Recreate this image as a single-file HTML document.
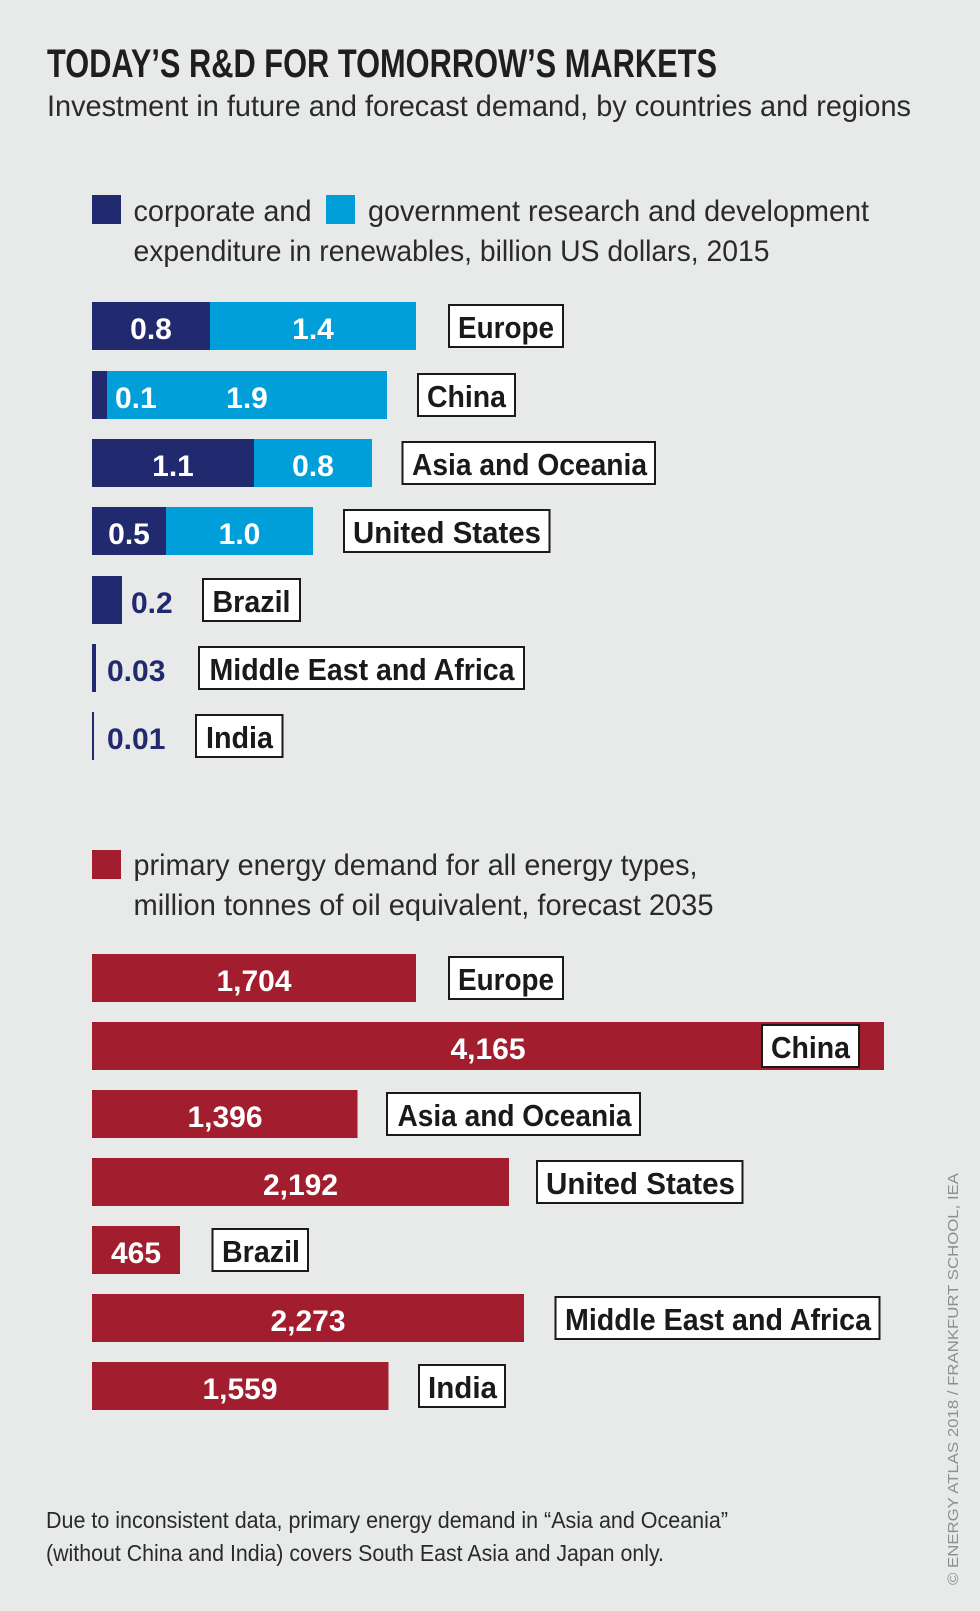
<!DOCTYPE html>
<html>
<head>
<meta charset="utf-8">
<style>
  html,body{margin:0;padding:0;background:#e8eaea;}
  svg{display:block;}
</style>
</head>
<body>
<svg width="980" height="1611" viewBox="0 0 980 1611" xmlns="http://www.w3.org/2000/svg">
  <rect x="0" y="0" width="980" height="1611" fill="#e8eaea"/>

  <!-- Title -->
  <text x="47" y="77" font-family="Liberation Sans, sans-serif" font-weight="bold" font-size="39.5" fill="#1e1e1e" textLength="670" lengthAdjust="spacingAndGlyphs">TODAY’S R&amp;D FOR TOMORROW’S MARKETS</text>
  <text x="47" y="116" font-family="Liberation Sans, sans-serif" font-size="29.5" fill="#2a2a2a" textLength="864" lengthAdjust="spacingAndGlyphs">Investment in future and forecast demand, by countries and regions</text>

  <!-- Legend 1 -->
  <rect x="92" y="195" width="29" height="29" fill="#222a6f"/>
  <text x="133.5" y="221" font-family="Liberation Sans, sans-serif" font-size="30" fill="#2a2a2a" textLength="178" lengthAdjust="spacingAndGlyphs">corporate and</text>
  <rect x="326" y="195" width="29" height="29" fill="#009fda"/>
  <text x="368" y="221" font-family="Liberation Sans, sans-serif" font-size="30" fill="#2a2a2a" textLength="501" lengthAdjust="spacingAndGlyphs">government research and development</text>
  <text x="133.5" y="261" font-family="Liberation Sans, sans-serif" font-size="30" fill="#2a2a2a" textLength="636" lengthAdjust="spacingAndGlyphs">expenditure in renewables, billion US dollars, 2015</text>

  <!-- Blue bars -->
  <g font-family="Liberation Sans, sans-serif" font-weight="bold" font-size="30">
    <!-- Europe -->
    <rect x="92" y="302" width="118" height="48" fill="#222a6f"/>
    <rect x="210" y="302" width="206" height="48" fill="#009fda"/>
    <text x="151" y="339" fill="#fff" text-anchor="middle">0.8</text>
    <text x="313" y="339" fill="#fff" text-anchor="middle">1.4</text>
    <!-- China -->
    <rect x="92" y="371" width="15" height="48" fill="#222a6f"/>
    <rect x="107" y="371" width="280" height="48" fill="#009fda"/>
    <text x="115" y="408" fill="#fff">0.1</text>
    <text x="247" y="408" fill="#fff" text-anchor="middle">1.9</text>
    <!-- Asia -->
    <rect x="92" y="439" width="162" height="48" fill="#222a6f"/>
    <rect x="254" y="439" width="118" height="48" fill="#009fda"/>
    <text x="173" y="476" fill="#fff" text-anchor="middle">1.1</text>
    <text x="313" y="476" fill="#fff" text-anchor="middle">0.8</text>
    <!-- US -->
    <rect x="92" y="507" width="74" height="48" fill="#222a6f"/>
    <rect x="166" y="507" width="147" height="48" fill="#009fda"/>
    <text x="129" y="544" fill="#fff" text-anchor="middle">0.5</text>
    <text x="239.5" y="544" fill="#fff" text-anchor="middle">1.0</text>
    <!-- Brazil -->
    <rect x="92" y="576" width="30" height="48" fill="#222a6f"/>
    <text x="131" y="613" fill="#222a6f">0.2</text>
    <!-- MEA -->
    <rect x="92" y="644" width="4" height="48" fill="#222a6f"/>
    <text x="107" y="681" fill="#222a6f">0.03</text>
    <!-- India -->
    <rect x="92" y="712" width="2" height="48" fill="#222a6f"/>
    <text x="107" y="749" fill="#222a6f">0.01</text>
  </g>

  <!-- Blue labels -->
  <g font-family="Liberation Sans, sans-serif" font-weight="bold" font-size="31" fill="#1a1a1a">
    <rect x="449" y="305" width="114" height="42" fill="#fff" stroke="#1a1a1a" stroke-width="2"/>
    <text x="458" y="338" textLength="96" lengthAdjust="spacingAndGlyphs">Europe</text>
    <rect x="418" y="374" width="97" height="42" fill="#fff" stroke="#1a1a1a" stroke-width="2"/>
    <text x="427" y="407" textLength="79" lengthAdjust="spacingAndGlyphs">China</text>
    <rect x="402.5" y="442" width="252.5" height="42" fill="#fff" stroke="#1a1a1a" stroke-width="2"/>
    <text x="412" y="475" textLength="235" lengthAdjust="spacingAndGlyphs">Asia and Oceania</text>
    <rect x="344" y="510" width="205.5" height="42" fill="#fff" stroke="#1a1a1a" stroke-width="2"/>
    <text x="353" y="543" textLength="188" lengthAdjust="spacingAndGlyphs">United States</text>
    <rect x="203" y="579" width="97" height="42" fill="#fff" stroke="#1a1a1a" stroke-width="2"/>
    <text x="212.5" y="612" textLength="78" lengthAdjust="spacingAndGlyphs">Brazil</text>
    <rect x="199" y="647" width="325" height="42" fill="#fff" stroke="#1a1a1a" stroke-width="2"/>
    <text x="209.5" y="680" textLength="305" lengthAdjust="spacingAndGlyphs">Middle East and Africa</text>
    <rect x="196" y="715" width="86.5" height="42" fill="#fff" stroke="#1a1a1a" stroke-width="2"/>
    <text x="206" y="748" textLength="67" lengthAdjust="spacingAndGlyphs">India</text>
  </g>

  <!-- Legend 2 -->
  <rect x="92" y="850" width="29" height="29" fill="#a21e2e"/>
  <text x="133.5" y="875" font-family="Liberation Sans, sans-serif" font-size="30" fill="#2a2a2a" textLength="564" lengthAdjust="spacingAndGlyphs">primary energy demand for all energy types,</text>
  <text x="133.5" y="915" font-family="Liberation Sans, sans-serif" font-size="30" fill="#2a2a2a" textLength="580" lengthAdjust="spacingAndGlyphs">million tonnes of oil equivalent, forecast 2035</text>

  <!-- Red bars -->
  <g font-family="Liberation Sans, sans-serif" font-weight="bold" font-size="30" fill="#fff" text-anchor="middle">
    <rect x="92" y="954" width="324" height="48" fill="#a21e2e"/>
    <text x="254" y="991">1,704</text>
    <rect x="92" y="1022" width="792" height="48" fill="#a21e2e"/>
    <text x="488" y="1059">4,165</text>
    <rect x="92" y="1090" width="265.5" height="48" fill="#a21e2e"/>
    <text x="225" y="1127">1,396</text>
    <rect x="92" y="1158" width="417" height="48" fill="#a21e2e"/>
    <text x="300.5" y="1195">2,192</text>
    <rect x="92" y="1226" width="88" height="48" fill="#a21e2e"/>
    <text x="136" y="1263">465</text>
    <rect x="92" y="1294" width="432" height="48" fill="#a21e2e"/>
    <text x="308" y="1331">2,273</text>
    <rect x="92" y="1362" width="296.5" height="48" fill="#a21e2e"/>
    <text x="240" y="1399">1,559</text>
  </g>

  <!-- Red labels -->
  <g font-family="Liberation Sans, sans-serif" font-weight="bold" font-size="31" fill="#1a1a1a">
    <rect x="449" y="957" width="114" height="42" fill="#fff" stroke="#1a1a1a" stroke-width="2"/>
    <text x="458" y="990" textLength="96" lengthAdjust="spacingAndGlyphs">Europe</text>
    <rect x="762" y="1025" width="97" height="42" fill="#fff" stroke="#1a1a1a" stroke-width="2"/>
    <text x="771" y="1058" textLength="79" lengthAdjust="spacingAndGlyphs">China</text>
    <rect x="387" y="1093" width="253" height="42" fill="#fff" stroke="#1a1a1a" stroke-width="2"/>
    <text x="397.5" y="1126" textLength="234" lengthAdjust="spacingAndGlyphs">Asia and Oceania</text>
    <rect x="537" y="1161" width="205.5" height="42" fill="#fff" stroke="#1a1a1a" stroke-width="2"/>
    <text x="546" y="1194" textLength="189" lengthAdjust="spacingAndGlyphs">United States</text>
    <rect x="212.5" y="1229" width="95.5" height="42" fill="#fff" stroke="#1a1a1a" stroke-width="2"/>
    <text x="222" y="1262" textLength="78" lengthAdjust="spacingAndGlyphs">Brazil</text>
    <rect x="555.5" y="1297" width="324" height="42" fill="#fff" stroke="#1a1a1a" stroke-width="2"/>
    <text x="565" y="1330" textLength="306" lengthAdjust="spacingAndGlyphs">Middle East and Africa</text>
    <rect x="419" y="1365" width="86" height="42" fill="#fff" stroke="#1a1a1a" stroke-width="2"/>
    <text x="428" y="1398" textLength="69" lengthAdjust="spacingAndGlyphs">India</text>
  </g>

  <!-- Footnote -->
  <text x="46" y="1528" font-family="Liberation Sans, sans-serif" font-size="23" fill="#2a2a2a" textLength="682" lengthAdjust="spacingAndGlyphs">Due to inconsistent data, primary energy demand in “Asia and Oceania”</text>
  <text x="46" y="1561" font-family="Liberation Sans, sans-serif" font-size="23" fill="#2a2a2a" textLength="618" lengthAdjust="spacingAndGlyphs">(without China and India) covers South East Asia and Japan only.</text>

  <!-- Credit -->
  <text transform="translate(958,1585) rotate(-90)" x="0" y="0" font-family="Liberation Sans, sans-serif" font-size="14.5" fill="#8c8f91" textLength="412" lengthAdjust="spacingAndGlyphs">© ENERGY ATLAS 2018 / FRANKFURT SCHOOL, IEA</text>
</svg>
</body>
</html>
